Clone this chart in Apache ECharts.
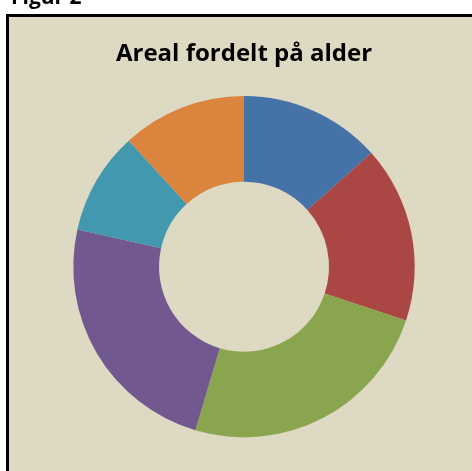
<!DOCTYPE html>
<html>
<head>
<meta charset="utf-8">
<script src="https://cdn.jsdelivr.net/npm/echarts@6/dist/echarts.min.js"></script>
<style>
html,body{margin:0;padding:0;background:#ffffff;}
#chart{width:472px;height:471px;}
</style>
</head>
<body>
<div id="chart"></div>
<script>
var categories = ['Aldersklasse 1', 'Aldersklasse 2', 'Aldersklasse 3', 'Aldersklasse 4', 'Aldersklasse 5', 'Aldersklasse 6'];
var values = [13.4, 16.7, 24.5, 23.9, 9.7, 11.8];
var colors = ['#4572A7', '#AA4643', '#89A54E', '#71588F', '#4198AF', '#DB843D'];
var titleText = 'Areal fordelt på alder';
var figureLabel = 'Figur 2';

var chart = echarts.init(document.getElementById('chart'), null, {renderer: 'canvas'});
var pieData = categories.map(function (c, i) {
  return {name: c, value: values[i], itemStyle: {color: colors[i]}};
});
chart.setOption({
  animation: false,
  backgroundColor: '#ffffff',
  title: {
    text: titleText,
    left: 239,
    top: 37,
    textAlign: 'center',
    textStyle: {fontFamily: 'Open Sans', fontWeight: 'bold', fontSize: 24, color: '#000000'}
  },
  graphic: [
    {
      type: 'rect', z: -10, silent: true,
      shape: {x: 7.5, y: 15.5, width: 480, height: 480},
      style: {fill: '#DDD9C3', stroke: '#000000', lineWidth: 3}
    },
    {
      type: 'text', z: 10, silent: true,
      style: {x: 11, y: -12, text: figureLabel, fontFamily: 'Open Sans', fontWeight: 'bold', fontSize: 21,
              fill: '#000000', align: 'left', verticalAlign: 'top'}
    }
  ],
  series: [{
    type: 'pie',
    center: [244, 266.7],
    radius: [85, 170.7],
    startAngle: 90,
    clockwise: true,
    label: {show: false},
    labelLine: {show: false},
    emphasis: {disabled: true},
    data: pieData
  }]
});
</script>
</body>
</html>
